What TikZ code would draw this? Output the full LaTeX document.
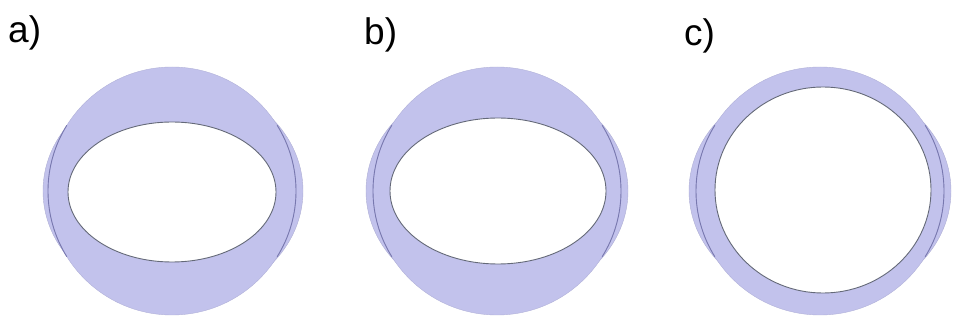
\documentclass[tikz,border=0pt]{standalone}
\usepackage{fontspec}
\setmainfont{Liberation Sans}
\definecolor{ringfill}{RGB}{194,194,236}
\definecolor{ringedge}{RGB}{120,120,175}
\definecolor{holeedge}{RGB}{100,105,120}
\begin{document}
\begin{tikzpicture}[x=1pt,y=-1pt,
  lbl/.style={anchor=base west,inner sep=0pt,font=\fontsize{37}{37}\selectfont},
  bulge/.style={fill=ringfill,draw=ringfill!90!black,line width=0.4pt},
  disk/.style={fill=ringfill,draw=ringfill!92!black,line width=0.4pt},
  rim/.style={draw=ringedge,line width=0.9pt},
  hole/.style={fill=white,draw=holeedge,line width=0.9pt}]
\useasboundingbox (0,0) rectangle (953,320);
% panel a
\filldraw[bulge] (173,191) ellipse [x radius=130,y radius=112];
\filldraw[disk] (172,191) circle [radius=124];
\draw[rim] (172,191) ++(148:124) arc[start angle=148,end angle=212,radius=124];
\draw[rim] (172,191) ++(-32:124) arc[start angle=-32,end angle=32,radius=124];
\draw[hole] (172,192) ellipse [x radius=104,y radius=70];
% panel b
\filldraw[bulge] (497,191) ellipse [x radius=131,y radius=112];
\filldraw[disk] (497,191) circle [radius=124];
\draw[rim] (497,191) ++(148:124) arc[start angle=148,end angle=212,radius=124];
\draw[rim] (497,191) ++(-32:124) arc[start angle=-32,end angle=32,radius=124];
\draw[hole] (498,191) ellipse [x radius=108,y radius=73];
% panel c
\filldraw[bulge] (820,191) ellipse [x radius=131,y radius=112];
\filldraw[disk] (820,191) circle [radius=124];
\draw[rim] (820,191) ++(148:124) arc[start angle=148,end angle=212,radius=124];
\draw[rim] (820,191) ++(-32:124) arc[start angle=-32,end angle=32,radius=124];
\draw[hole] (823,190) ellipse [x radius=108,y radius=103];
% labels
\node[lbl] (la) at (8,43) {a)};
\node[lbl] (lb) at (364,45) {b)};
\node[lbl] (lc) at (684,46) {c)};
\end{tikzpicture}
\end{document}
